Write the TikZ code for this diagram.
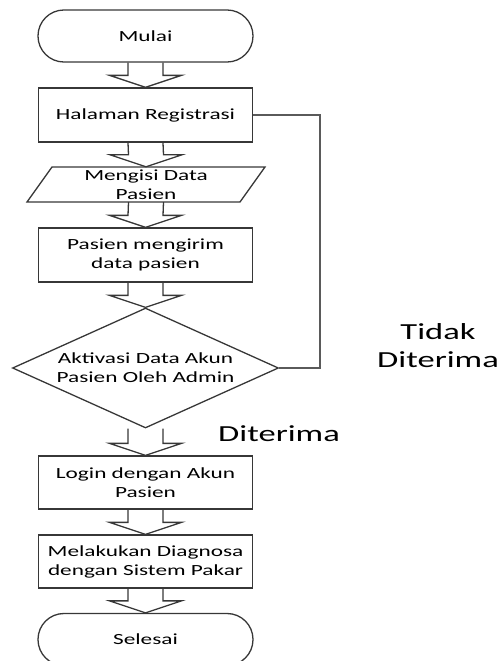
\documentclass[tikz,border=0pt]{standalone}
\usepackage{fontspec}
\setmainfont{Carlito}[FakeStretch=1.5]
\usetikzlibrary{shapes.geometric,calc}

\definecolor{edge}{RGB}{55,55,55}
\definecolor{loopline}{RGB}{90,90,90}

% hollow block arrow from the bottom of one node to the top of the next
\newcommand{\blockarrow}[2]{%
  \draw[barrow] ($(#1.south)+(-17.5,0)$) -- ($(#2.north)+(-17.5,-12)$)
    -- ($(#2.north)+(-36,-12)$) -- (#2.north) -- ($(#2.north)+(36,-12)$)
    -- ($(#2.north)+(17.5,-12)$) -- ($(#1.south)+(17.5,0)$);}

\begin{document}
\begin{tikzpicture}[x=1pt,y=-1pt,
  every node/.style={font=\fontsize{15.5}{19}\selectfont, align=center, inner sep=0pt},
  procbox/.style={draw=edge, line width=1.3pt, rectangle, minimum width=214pt},
  termbox/.style={draw=edge, line width=1.3pt, rectangle, rounded corners=25.9pt,
                  minimum width=215pt, minimum height=52pt},
  decbox/.style={draw=edge, line width=1.3pt, diamond, aspect=2.2,
                 minimum width=266pt, minimum height=120pt},
  barrow/.style={draw=edge, line width=1.3pt, line join=miter},
  loopline/.style={draw=loopline, line width=1.3pt},
  biglabel/.style={font=\fontsize{23}{28}\selectfont}]

\useasboundingbox (0,0) rectangle (499,661);

% main column
\node[termbox] (mulai) at (145.5,36) {Mulai};
\node[procbox, minimum height=54pt] (halaman) at (145.5,115) {Halaman Registrasi};
\node[minimum width=188pt, minimum height=35pt] (isi) at (146,184.5) {Mengisi Data\\Pasien};
\draw[edge, line width=1.3pt] (52,167) -- (265,167) -- (240,202) -- (27,202) -- cycle;
\node[procbox, minimum height=54pt] (kirim) at (145.5,255) {Pasien mengirim\\data pasien};
\node[decbox] (aktivasi) at (145.5,368) {Aktivasi Data Akun\\Pasien Oleh Admin};
\node[procbox, minimum height=53pt] (login) at (145.5,482.5) {Login dengan Akun\\Pasien};
\node[procbox, minimum height=53pt] (diagnosa) at (145.5,561.5) {Melakukan Diagnosa\\dengan Sistem Pakar};
\node[termbox] (selesai) at (145.5,639.5) {Selesai};

% block arrows
\blockarrow{mulai}{halaman}
\blockarrow{halaman}{isi}
\blockarrow{isi}{kirim}
\blockarrow{kirim}{aktivasi}
\blockarrow{aktivasi}{login}
\blockarrow{login}{diagnosa}
\blockarrow{diagnosa}{selesai}

% rejection loop back to registration
\coordinate (loopturn) at (320,368);
\draw[loopline] (halaman.east) -| (loopturn) -- (aktivasi.east);

% branch labels
\node[biglabel] (tidak) at (438,346) {Tidak\\Diterima};
\node[biglabel] (diterima) at (279,434) {Diterima};

\end{tikzpicture}
\end{document}
